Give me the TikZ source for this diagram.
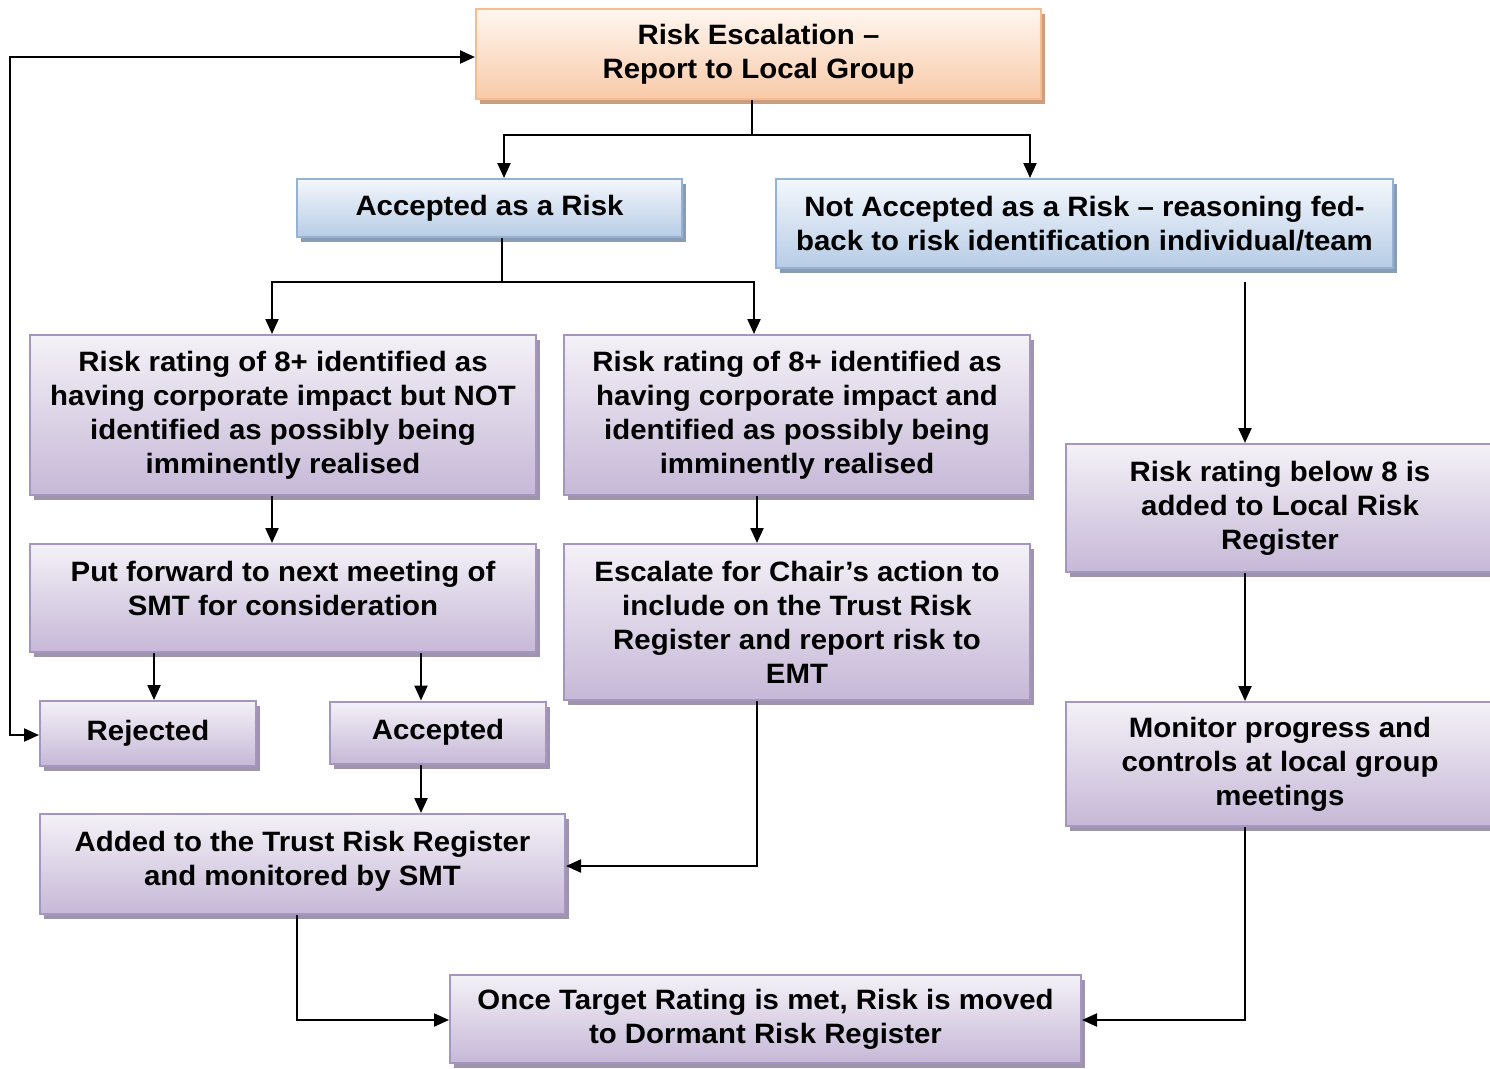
\documentclass[tikz,border=0pt]{standalone}
\usepackage{fontspec}
\setmainfont{Liberation Sans}[FakeStretch=1.05]
\usetikzlibrary{shadows,arrows.meta,calc}
\definecolor{otop}{HTML}{FFF6F0}
\definecolor{obot}{HTML}{F8CAA8}
\definecolor{oborder}{HTML}{F7BB8F}
\definecolor{oshadow}{HTML}{CC9E80}
\definecolor{btop}{HTML}{F3F7FC}
\definecolor{bbot}{HTML}{B7CCE6}
\definecolor{bborder}{HTML}{94B2D6}
\definecolor{bshadow}{HTML}{8A9BB3}
\definecolor{ptop}{HTML}{F4F1F7}
\definecolor{pbot}{HTML}{C6B8D7}
\definecolor{pborder}{HTML}{A595C1}
\definecolor{pshadow}{HTML}{9E94AC}
\tikzset{
  basebox/.style={line width=2pt, align=center, inner sep=0pt,
    font=\bfseries\fontsize{28pt}{34pt}\selectfont},
  obox/.style={basebox, draw=oborder, top color=otop, bottom color=obot,
    general shadow={fill=oshadow, shadow xshift=4pt, shadow yshift=-5pt}},
  bbox/.style={basebox, draw=bborder, top color=btop, bottom color=bbot,
    general shadow={fill=bshadow, shadow xshift=4pt, shadow yshift=-5pt}},
  pbox/.style={basebox, draw=pborder, top color=ptop, bottom color=pbot,
    general shadow={fill=pshadow, shadow xshift=4pt, shadow yshift=-5pt}},
  conn/.style={line width=2.2pt, draw=black},
  arr/.style={conn, -{Triangle[length=15pt,width=13pt]}},
  darr/.style={conn, {Triangle[length=15pt,width=13pt]}-{Triangle[length=15pt,width=13pt]}}
}
\begin{document}
\begin{tikzpicture}[x=1pt,y=-1pt]
\useasboundingbox (0,0) rectangle (1490,1068);
% boxes
\node[obox, minimum width=565pt, minimum height=90pt] (top) at (758.5,54) {Risk Escalation --\\Report to Local Group};
\node[bbox, minimum width=385pt, minimum height=58pt] (acc) at (489.5,208) {Accepted as a Risk};
\node[bbox, minimum width=617pt, minimum height=89pt] (notacc) at (1084.5,223.5) {Not Accepted as a Risk -- reasoning fed-\\back to risk identification individual/team};
\node[pbox, minimum width=506pt, minimum height=160pt] (lrate) at (283,415) {Risk rating of 8+ identified as\\having corporate impact but NOT\\identified as possibly being\\imminently realised};
\node[pbox, minimum width=466pt, minimum height=160pt] (mrate) at (797,415) {Risk rating of 8+ identified as\\having corporate impact and\\identified as possibly being\\imminently realised};
\node[pbox, minimum width=428pt, minimum height=128pt] (below) at (1280,508) {Risk rating below 8 is\\added to Local Risk\\Register};
\node[pbox, minimum width=506pt, minimum height=108pt] (putf) at (283,598) {Put forward to next meeting of\\SMT for consideration\\[-15pt]\mbox{}};
\node[pbox, minimum width=466pt, minimum height=156pt] (escal) at (797,622) {Escalate for Chair’s action to\\include on the Trust Risk\\Register and report risk to\\EMT};
\node[pbox, minimum width=216pt, minimum height=65pt] (rej) at (148,733.5) {Rejected};
\node[pbox, minimum width=216pt, minimum height=62pt] (accd) at (438,732.5) {Accepted};
\node[pbox, minimum width=428pt, minimum height=124pt] (mon) at (1280,764) {Monitor progress and\\controls at local group\\meetings};
\node[pbox, minimum width=525pt, minimum height=100pt] (added) at (302.5,864) {Added to the Trust Risk Register\\and monitored by SMT\\[-23pt]\mbox{}};
\node[pbox, minimum width=631pt, minimum height=88pt] (once) at (765.5,1019) {Once Target Rating is met, Risk is moved\\to Dormant Risk Register};
% helper coordinates
\coordinate (x752) at (752,0);
\coordinate (x504) at (504,0);
\coordinate (x1030) at (1030,0);
\coordinate (x502) at (502,0);
\coordinate (x272) at (272,0);
\coordinate (x754) at (754,0);
\coordinate (x757) at (757,0);
\coordinate (x154) at (154,0);
\coordinate (x421) at (421,0);
\coordinate (x297) at (297,0);
\coordinate (x1245) at (1245,0);
\coordinate (x10) at (10,0);
\coordinate (j1) at (752,135);
\coordinate (j2) at (502,282);
\coordinate (nstart) at (1245,282);
\coordinate (y866) at (0,866);
\coordinate (y1020) at (0,1020);
\coordinate (y735) at (0,735);
\coordinate (y57) at (0,57);
% connectors
\draw[conn] (top.south -| x752) -- (j1);
\draw[arr] (j1) -| (acc.north -| x504);
\draw[arr] (j1) -| (notacc.north -| x1030);
\draw[conn] (acc.south -| x502) -- (j2);
\draw[arr] (j2) -| (lrate.north -| x272);
\draw[arr] (j2) -| (mrate.north -| x754);
\draw[arr] (nstart) -- (below.north -| x1245);
\draw[arr] (lrate.south -| x272) -- (putf.north -| x272);
\draw[arr] (mrate.south -| x757) -- (escal.north -| x757);
\draw[arr] (putf.south -| x154) -- (rej.north -| x154);
\draw[arr] (putf.south -| x421) -- (accd.north -| x421);
\draw[arr] (accd.south -| x421) -- (added.north -| x421);
\draw[arr] (escal.south -| x757) |- (added.east |- y866);
\draw[arr] (below.south -| x1245) -- (mon.north -| x1245);
\draw[arr] (added.south -| x297) |- (once.west |- y1020);
\draw[arr] (mon.south -| x1245) |- (once.east |- y1020);
\draw[darr] (rej.west |- y735) -| (x10 |- y57) -- (top.west |- y57);
\end{tikzpicture}
\end{document}
